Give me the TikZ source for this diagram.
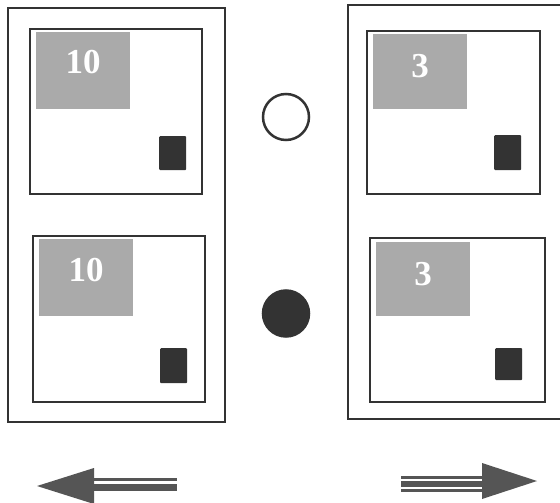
\documentclass[tikz,border=0pt]{standalone}
\usepackage{fontspec}
\setmainfont{Liberation Serif}
\definecolor{boxc}{HTML}{333333}
\definecolor{tagc}{HTML}{AAAAAA}
\definecolor{chipc}{HTML}{333333}
\definecolor{arrc}{HTML}{555555}
\begin{document}
\begin{tikzpicture}[x=1pt,y=-1pt,
  outer/.style={draw=boxc, line width=2.4pt, anchor=north west, inner sep=0pt},
  card/.style={draw=boxc, line width=2.4pt, fill=white, anchor=north west, inner sep=0pt},
  tag/.style={fill=tagc, anchor=north west, inner sep=0pt},
  chip/.style={fill=chipc, anchor=north west, inner sep=0pt, rounded corners=1pt},
  num/.style={text=white, inner sep=0pt, font=\fontsize{35}{35}\selectfont\bfseries},
  dot/.style={circle, draw=boxc, line width=2.5pt, minimum size=46pt, inner sep=0pt},
  arr/.style={fill=arrc}]
\useasboundingbox (0,0) rectangle (560,503);
\clip (0,0) rectangle (560,503);
\fill[white] (0,0) rectangle (560,503);
% outer frames
\node[outer, minimum width=217pt, minimum height=414pt] (L) at (7,7) {};
\node[outer, minimum width=225pt, minimum height=414pt] (R) at (347,4) {};
% left cards
\node[card, minimum width=172pt, minimum height=165pt] (LT) at (29,28) {};
\node[tag, minimum width=94pt, minimum height=77pt] (LTt) at (36,32) {};
\node[chip, minimum width=27pt, minimum height=34pt] (LTc) at (159,136) {};
\node[num] (n1) at (83,62) {10};
\node[card, minimum width=172pt, minimum height=166pt] (LB) at (32,235) {};
\node[tag, minimum width=94pt, minimum height=77pt] (LBt) at (39,239) {};
\node[chip, minimum width=27pt, minimum height=35pt] (LBc) at (160,348) {};
\node[num] (n2) at (86,270) {10};
% right cards
\node[card, minimum width=173pt, minimum height=163pt] (RT) at (366,30) {};
\node[tag, minimum width=94pt, minimum height=75pt] (RTt) at (373,34) {};
\node[chip, minimum width=27pt, minimum height=35pt] (RTc) at (494,135) {};
\node[num] (n3) at (420,66) {3};
\node[card, minimum width=175pt, minimum height=164pt] (RB) at (369,237) {};
\node[tag, minimum width=94pt, minimum height=74pt] (RBt) at (376,242) {};
\node[chip, minimum width=27pt, minimum height=32pt] (RBc) at (495,348) {};
\node[num] (n4) at (423,274) {3};
% circles
\node[dot] (open) at (286,117) {};
\node[dot, fill=boxc] (full) at (286,313.5) {};
% left arrow
\fill[arr] (37,486) -- (94,468) -- (94,504) -- cycle;
\fill[arr] (93,478) rectangle (177,481);
\fill[arr] (93,483.5) rectangle (177,491);
% right arrow
\fill[arr] (537,481) -- (482,463) -- (482,499) -- cycle;
\fill[arr] (401,476) rectangle (483,478.5);
\fill[arr] (401,481) rectangle (483,487);
\fill[arr] (401,489) rectangle (483,491.5);
\end{tikzpicture}
\end{document}
